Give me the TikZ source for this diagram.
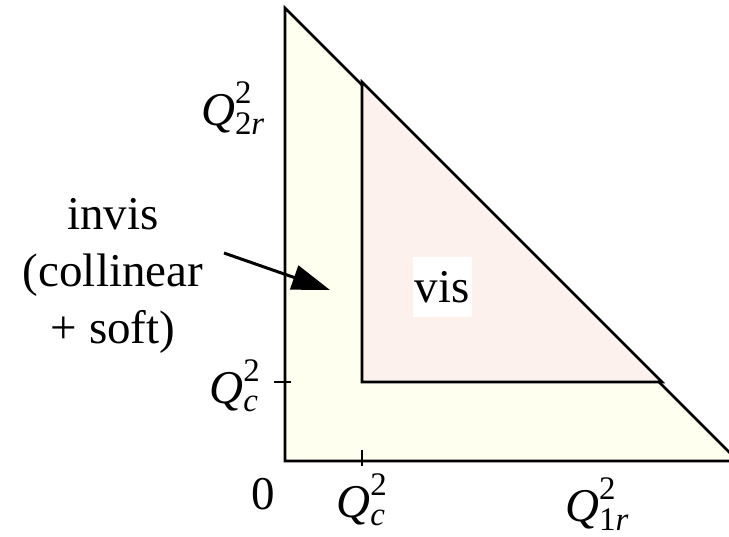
\documentclass[tikz,border=0pt]{standalone}
\usepackage{amsmath}
\usepackage{fontspec}
\setmainfont{Liberation Serif}
\usepackage{tikz}
\usetikzlibrary{arrows.meta}
\usepackage{xcolor}
\definecolor{invisfill}{RGB}{255,255,240}
\definecolor{visfill}{RGB}{253,241,237}
\newcommand{\qsq}[1]{$\text{\textit{Q}}^{\text{2}}_{\text{#1}}$}

\begin{document}
\begin{tikzpicture}[x=1pt,y=-1pt,>={Triangle[length=38pt,width=25pt]},
  lbl/.style={inner sep=0pt,font=\fontsize{47}{57}\selectfont},
  edge/.style={line width=2.6pt,draw=black,line join=miter},
  arr/.style={->,line width=3pt,draw=black}]
\useasboundingbox (0,0) rectangle (729,537);
\clip (0,0) rectangle (729,537);
% regions
\filldraw[edge,fill=invisfill] (285,8) -- (285,461) -- (738,461) -- cycle;
\filldraw[edge,fill=visfill] (362,82) -- (362,382) -- (662,382) -- cycle;
% ticks
\draw[edge] (274,382) -- (291,382);
\draw[edge] (362,450) -- (362,466);
% labels
\node[lbl] (q2r) at (233,108) {\qsq{2\textit{r}}};
\node[lbl] (qcy) at (235,386) {\qsq{\textit{c}}};
\node[lbl] (zero) at (263,494) {0};
\node[lbl] (qcx) at (362,500) {\qsq{\textit{c}}};
\node[lbl] (q1r) at (597,504) {\qsq{1\textit{r}}};
\node[lbl,align=center] (invis) at (113,276) {invis\\(collinear\\+ soft)};
\node[lbl,fill=white,inner sep=2pt,minimum width=59pt,minimum height=60pt] (vis) at (442,287) {vis};
\coordinate (invtail) at (224,253);
\coordinate (invtip) at (330,290);
\draw[arr] (invtail) -- (invtip);
\end{tikzpicture}
\end{document}
